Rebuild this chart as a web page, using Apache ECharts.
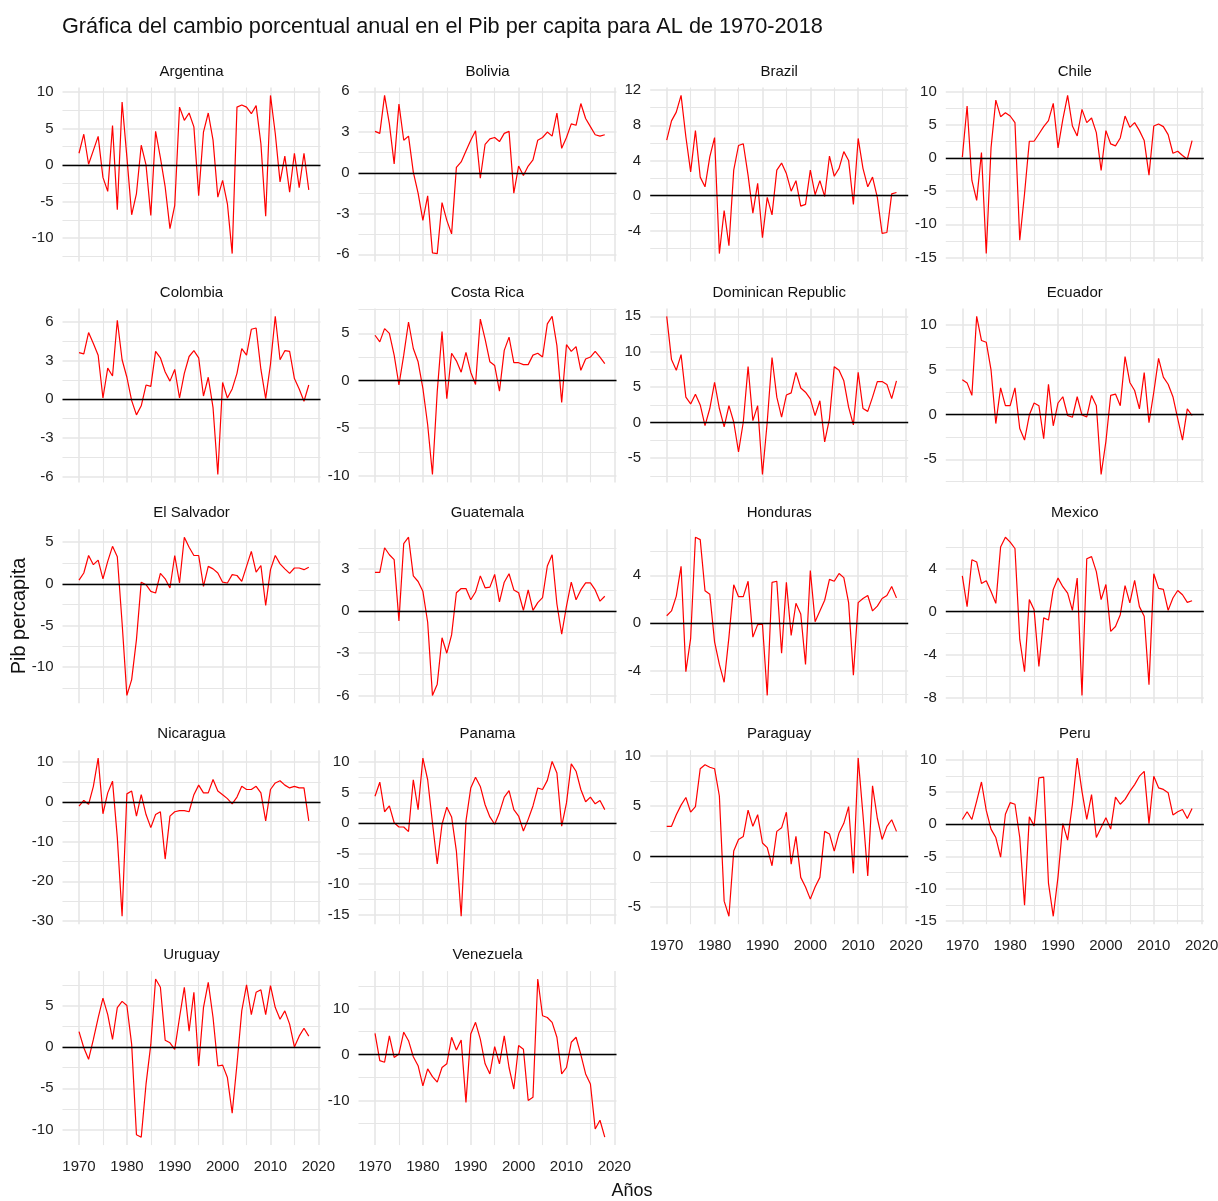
<!DOCTYPE html>
<html>
<head>
<meta charset="utf-8">
<script src="https://cdn.jsdelivr.net/npm/echarts@6/dist/echarts.min.js"></script>
<style>html,body{margin:0;padding:0;background:#fff}#c{width:1218px;height:1201px}</style>
</head>
<body>
<div id="c"></div>
<script>
// ---------------- DATA ----------------
const years = [1970,1971,1972,1973,1974,1975,1976,1977,1978,1979,
               1980,1981,1982,1983,1984,1985,1986,1987,1988,1989,
               1990,1991,1992,1993,1994,1995,1996,1997,1998,1999,
               2000,2001,2002,2003,2004,2005,2006,2007,2008,2009,
               2010,2011,2012,2013,2014,2015,2016,2017,2018];

const countries = ['Argentina','Bolivia','Brazil','Chile','Colombia','Costa Rica',
  'Dominican Republic','Ecuador','El Salvador','Guatemala','Honduras','Mexico',
  'Nicaragua','Panama','Paraguay','Peru','Uruguay','Venezuela'];

const argentina = [1.6,4.2,0.1,2.0,3.9,-1.7,-3.6,5.4,-6.1,8.6,
  1.1,-6.8,-3.9,2.7,0.0,-6.9,4.6,1.0,-3.0,-8.7,
  -5.5,7.9,6.1,7.1,5.2,-4.2,4.5,7.1,3.4,-4.4,
  -2.1,-5.3,-12.1,7.9,8.2,7.9,7.0,8.1,2.9,-7.0,
  9.5,4.3,-2.3,1.2,-3.7,1.6,-3.1,1.6,-3.4];
const bolivia = [3.05,2.9,5.7,3.6,0.66,5.06,2.4,2.7,0.05,-1.5,
  -3.5,-1.7,-5.9,-5.95,-2.2,-3.5,-4.5,0.4,0.8,1.6,
  2.4,3.1,-0.4,2.1,2.5,2.6,2.3,2.9,3.05,-1.5,
  0.5,-0.2,0.5,0.95,2.4,2.6,3.0,2.7,4.4,1.8,
  2.6,3.6,3.5,5.1,4.0,3.4,2.8,2.7,2.8];
const brazil = [6.3,8.5,9.5,11.4,6.7,2.7,7.4,2.1,1.0,4.4,
  6.6,-6.6,-1.7,-5.7,2.9,5.7,5.9,2.3,-2.0,1.4,
  -4.8,-0.2,-2.2,2.9,3.7,2.5,0.5,1.7,-1.2,-1.0,
  2.9,0.1,1.7,-0.1,4.5,2.2,3.1,5.0,4.0,-1.0,
  6.5,3.1,1.0,2.1,-0.2,-4.3,-4.2,0.2,0.35];
const chile = [0.1,7.8,-3.4,-6.4,0.8,-14.4,1.5,8.7,6.2,6.8,
  6.3,5.3,-12.4,-5.4,2.5,2.5,3.6,4.7,5.6,8.2,
  1.5,5.8,9.4,4.8,3.3,7.3,5.3,6.0,3.8,-1.9,
  4.1,2.1,1.8,3.0,6.3,4.6,5.3,4.1,2.6,-2.6,
  4.8,5.1,4.7,3.5,0.7,1.0,0.35,-0.2,2.6];
const colombia = [3.6,3.5,5.15,4.3,3.4,0.1,2.4,1.8,6.1,3.05,
  1.7,-0.1,-1.2,-0.5,1.1,1.0,3.7,3.2,2.1,1.4,
  2.3,0.1,2.0,3.3,3.75,3.2,0.25,1.7,-0.65,-5.8,
  1.3,0.1,0.8,2.0,3.9,3.4,5.4,5.5,2.3,0.05,
  2.7,6.4,3.05,3.75,3.7,1.6,0.8,-0.15,1.1];
const costaRica = [4.8,4.1,5.5,5.0,2.7,-0.45,2.7,6.2,3.4,2.0,
  -0.8,-4.65,-9.9,-1.15,5.2,-1.9,2.9,2.1,0.9,3.0,
  0.9,-0.4,6.5,4.4,2.0,1.6,-1.1,3.2,4.6,1.9,
  1.9,1.7,1.7,2.7,2.9,2.5,6.0,6.8,3.7,-2.3,
  3.8,3.1,3.6,1.1,2.3,2.5,3.1,2.5,1.8];
const dominicanRepublic = [15.0,8.9,7.4,9.6,3.6,2.65,4.0,2.5,-0.4,2.0,
  5.7,2.0,-0.6,2.4,0.1,-4.1,0.1,7.9,0.3,2.4,
  -7.3,0.1,9.2,3.6,0.8,3.9,4.2,7.1,4.9,4.3,
  3.35,1.0,3.1,-2.7,0.55,7.9,7.4,5.9,2.2,-0.3,
  7.1,2.0,1.6,3.6,5.8,5.8,5.4,3.4,5.9];
const ecuador = [3.9,3.55,2.15,11.0,8.3,8.1,5.0,-1.0,3.0,1.0,
  1.0,3.0,-1.55,-2.85,-0.05,1.3,1.0,-2.7,3.4,-1.25,
  1.3,2.0,-0.1,-0.3,2.0,-0.05,-0.25,2.15,1.0,-6.7,
  -3.0,2.15,2.3,1.0,6.5,3.6,2.7,0.65,4.7,-0.9,
  2.5,6.3,4.2,3.4,2.0,-0.45,-2.85,0.65,-0.1];
const elSalvador = [0.45,1.3,3.4,2.3,2.85,0.6,2.7,4.5,3.25,-4.7,
  -13.4,-11.5,-6.7,0.2,-0.1,-0.9,-1.1,1.25,0.6,-0.5,
  3.4,0.1,5.6,4.4,3.4,3.4,-0.3,2.1,1.8,1.3,
  0.2,0.1,1.1,1.0,0.3,2.1,3.9,1.4,2.2,-2.6,
  1.7,3.4,2.4,1.8,1.25,1.9,1.9,1.7,2.0];
const guatemala = [2.75,2.75,4.5,4.0,3.65,-0.7,4.8,5.25,2.5,2.1,
  1.4,-0.8,-6.0,-5.2,-1.9,-3.0,-1.7,1.3,1.6,1.6,
  0.8,1.35,2.5,1.65,1.7,2.6,0.65,2.05,2.65,1.5,
  1.3,0.05,1.5,0.05,0.6,0.95,3.2,4.0,0.5,-1.65,
  0.35,2.05,0.8,1.5,2.0,2.0,1.5,0.7,1.05];
const honduras = [0.6,1.0,2.25,4.75,-4.1,-1.3,7.2,7.0,2.7,2.4,
  -1.6,-3.5,-5.0,-1.2,3.2,2.2,2.2,3.5,-1.2,-0.15,
  -0.1,-6.1,3.4,3.5,-2.55,3.4,-1.05,1.65,0.75,-3.5,
  4.4,0.1,1.0,1.9,3.65,3.5,4.15,3.8,1.7,-4.4,
  1.7,2.05,2.3,1.0,1.4,2.05,2.3,3.05,2.1];
const mexico = [3.3,0.45,4.8,4.6,2.6,2.85,1.85,0.75,6.0,6.9,
  6.45,5.85,-2.6,-5.6,1.1,0.15,-5.1,-0.6,-0.8,2.05,
  3.1,2.3,1.7,0.1,3.1,-7.8,4.9,5.1,3.7,1.1,
  2.5,-1.85,-1.4,-0.3,2.4,0.8,2.9,0.45,-0.45,-6.8,
  3.5,2.15,2.05,0.1,1.25,1.95,1.55,0.85,1.0];
const nicaragua = [-1.1,0.35,-0.65,3.9,11.0,-3.0,2.25,5.2,-9.0,-28.8,
  2.0,2.7,-3.6,1.8,-3.2,-6.5,-3.2,-2.5,-14.4,-3.6,
  -2.5,-2.2,-2.2,-2.5,1.8,4.2,2.25,2.25,5.6,2.7,
  1.8,0.8,-0.5,1.2,3.9,3.1,3.1,3.9,2.25,-4.8,
  3.1,4.75,5.3,4.2,3.5,3.9,3.5,3.5,-4.8];
const panama = [4.4,6.7,1.85,2.8,0.05,-0.65,-0.65,-1.4,7.1,2.2,
  10.65,7.1,0.05,-6.7,-0.2,2.6,1.0,-4.6,-15.3,0.3,
  5.75,7.5,6.0,3.0,1.0,-0.2,1.7,4.25,5.3,2.2,
  1.15,-1.3,0.6,2.8,5.75,5.5,7.0,10.1,8.2,-0.5,
  3.3,9.7,8.5,5.5,3.5,4.25,3.15,3.7,2.2];
const paraguay = [3.0,3.0,4.15,5.1,5.85,4.4,4.95,8.7,9.1,8.85,
  8.7,6.0,-4.4,-5.9,0.55,1.7,2.0,4.6,3.0,4.15,
  1.35,0.9,-0.9,2.5,2.85,4.4,-0.75,2.0,-2.05,-3.0,
  -4.2,-3.0,-2.05,2.5,2.25,0.55,2.35,3.3,4.95,-1.65,
  9.75,4.15,-1.9,7.0,3.8,1.7,3.0,3.65,2.5];
const peru = [0.75,1.95,0.75,3.6,6.55,2.15,-0.75,-2.05,-5.1,1.55,
  3.35,3.1,-2.05,-12.55,1.15,-0.25,7.2,7.3,-9.1,-14.25,
  -8.1,0.1,-2.45,3.1,10.25,5.1,0.75,4.6,-2.05,-0.5,
  1.0,-0.75,4.2,3.1,3.85,5.1,6.15,7.45,8.2,0.1,
  7.45,5.65,5.4,4.9,1.45,1.95,2.3,0.9,2.45];
const uruguay = [1.85,-0.1,-1.5,0.9,3.5,5.9,3.9,0.9,4.75,5.5,
  5.0,0.3,-10.6,-10.9,-4.5,0.3,8.2,7.2,0.8,0.5,
  -0.3,3.55,7.2,1.9,6.6,-2.3,4.75,7.8,3.55,-2.3,
  -2.2,-3.7,-8.0,-2.1,4.35,7.5,3.9,6.6,6.9,3.9,
  7.4,4.75,3.35,4.35,2.75,0.0,1.3,2.25,1.3];
const venezuela = [4.65,-1.3,-1.65,4.1,-0.6,0.15,4.9,3.05,-0.45,-2.4,
  -6.8,-3.1,-4.8,-6.0,-2.8,-2.0,3.8,1.0,3.2,-10.4,
  4.5,7.05,3.4,-2.0,-4.2,1.75,-2.0,4.1,-2.8,-7.5,
  2.0,1.2,-10.0,-9.3,16.5,8.5,8.1,7.05,3.8,-4.2,
  -2.8,2.7,3.8,0.0,-4.2,-6.4,-16.2,-14.3,-18.0];

const seriesValues = [argentina,bolivia,brazil,chile,colombia,costaRica,
  dominicanRepublic,ecuador,elSalvador,guatemala,honduras,mexico,
  nicaragua,panama,paraguay,peru,uruguay,venezuela];

// y tick spacing per panel (labels)
const yStep = [5,3,4,5, 3,5,5,5, 5,3,4,4, 10,5,5,5, 5,10];
const xMajorTicks = [1970,1980,1990,2000,2010,2020];
const xMinorTicks = [1975,1985,1995,2005,2015];

const titleText = 'Gráfica del cambio porcentual anual en el Pib per capita para AL de 1970-2018';
const xTitle = 'Años';
const yTitle = 'Pib percapita';

// ---------------- LAYOUT ----------------
const FONT = '"Liberation Sans", Arial, Helvetica, sans-serif';
const colLeft = [62.5, 358.5, 650.2, 945.8];
const rowTop = [87.5, 308.4, 529.3, 750.2, 971.1];
const panelW = 258, panelH = 174;
const xMin = 1966.55, xMax = 2020.45;
const GRID = '#E6E6E6';
const bottomPanels = [14, 15, 16, 17];

const grids = [], xAxes = [], yAxes = [], series = [], graphics = [];

graphics.push({type:'text', x:62, y:27, style:{text:titleText, font:'21.7px ' + FONT, fill:'#111', align:'left', verticalAlign:'middle'}});
graphics.push({type:'text', x:632, y:1191, style:{text:xTitle, font:'18px ' + FONT, fill:'#111', align:'center', verticalAlign:'middle'}});
graphics.push({type:'text', x:19, y:616, rotation:Math.PI/2, style:{text:yTitle, font:'20px ' + FONT, fill:'#111', align:'center', verticalAlign:'middle'}});

countries.forEach((name, i) => {
  const col = i % 4, row = Math.floor(i / 4);
  const vals = seriesValues[i];
  const dmin = Math.min(0, ...vals), dmax = Math.max(0, ...vals);
  const span = dmax - dmin;
  const ymin = dmin - 0.05 * span, ymax = dmax + 0.05 * span;
  const step = yStep[i];
  const major = [], minor = [];
  for (let k = Math.ceil(ymin / step); k * step <= ymax; k++) major.push(k * step);
  for (let k = Math.ceil(ymin / step - 0.5); (k + 0.5) * step <= ymax; k++) {
    const v = (k + 0.5) * step;
    if (v >= ymin) minor.push(v);
  }
  const isBottom = bottomPanels.indexOf(i) >= 0;

  grids.push({left: colLeft[col], top: rowTop[row], width: panelW, height: panelH,
              containLabel:false, outerBoundsMode:'none'});

  xAxes.push({gridIndex:i, type:'value', min:xMin, max:xMax,
    axisLine:{show:false}, axisTick:{show:false, customValues:xMajorTicks},
    axisLabel:{show:isBottom, customValues:xMajorTicks, formatter:v => String(v),
               fontSize:15, color:'#222', margin:14, fontFamily:FONT},
    splitLine:{show:true, lineStyle:{color:GRID, width:1.6}}});
  xAxes.push({gridIndex:i, type:'value', min:xMin, max:xMax,
    axisLine:{show:false}, axisTick:{show:false, customValues:xMinorTicks},
    axisLabel:{show:false},
    splitLine:{show:true, lineStyle:{color:GRID, width:1.1}}});

  yAxes.push({gridIndex:i, type:'value', min:ymin, max:ymax,
    axisLine:{show:false}, axisTick:{show:false, customValues:major},
    axisLabel:{customValues:major, formatter:v => String(v),
               fontSize:15, color:'#222', margin:9, fontFamily:FONT},
    splitLine:{show:true, lineStyle:{color:GRID, width:1.6}}});
  yAxes.push({gridIndex:i, type:'value', min:ymin, max:ymax, position:'left',
    axisLine:{show:false}, axisTick:{show:false, customValues:minor},
    axisLabel:{show:false},
    splitLine:{show:true, lineStyle:{color:GRID, width:1.1}}});

  series.push({
    name, type:'line', xAxisIndex:2*i, yAxisIndex:2*i,
    data: years.map((y, k) => [y, vals[k]]),
    showSymbol:false, symbol:'none', silent:true,
    lineStyle:{color:'#FF0000', width:1.2}, itemStyle:{color:'#FF0000'},
    markLine:{silent:true, symbol:'none', label:{show:false},
      lineStyle:{color:'#000', width:1.3, type:'solid'}, data:[{yAxis:0}]}
  });

  graphics.push({type:'text', x: colLeft[col] + panelW / 2, y: rowTop[row] - 16,
    style:{text:name, font:'15px ' + FONT, fill:'#111', align:'center', verticalAlign:'middle'}});
});

const chart = echarts.init(document.getElementById('c'), null, {renderer:'canvas'});
chart.setOption({
  animation:false,
  backgroundColor:'#fff',
  grid: grids, xAxis: xAxes, yAxis: yAxes, series: series,
  graphic: graphics
});
</script>
</body>
</html>
